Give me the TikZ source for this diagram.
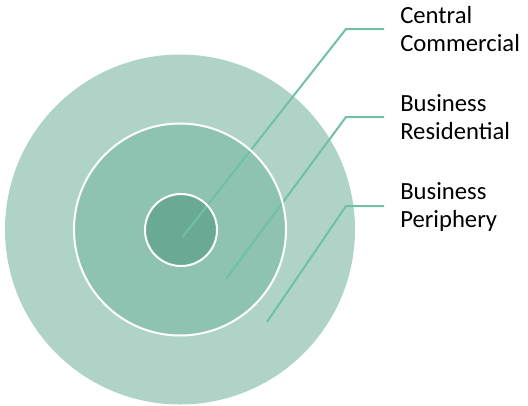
\documentclass[tikz,border=0pt]{standalone}
\usepackage{fontspec}
\setmainfont{Carlito}

\definecolor{outerc}{HTML}{AFD4C7}
\definecolor{middlec}{HTML}{8DC3B0}
\definecolor{innerc}{HTML}{6AAA95}
\definecolor{leadc}{HTML}{72C0A4}

\tikzset{
  zone/.style={circle,inner sep=0pt},
  rim/.style={circle,draw=white,line width=1.5pt,inner sep=0pt},
  leader/.style={draw=leadc,line width=1.5pt},
  zonetext/.style={anchor=base west,align=left,inner xsep=12pt,inner ysep=0pt,
    font=\fontsize{18.5}{21}\selectfont}
}

\begin{document}
\begin{tikzpicture}[x=0.75pt,y=-0.75pt]
    \useasboundingbox (0,0) rectangle (528,405);

    \node[zone,fill=outerc,minimum size=262.5pt] (O) at (180,229.5) {};
    \node[zone,fill=middlec,minimum size=159pt] (M) at (180,229.5) {};
    \node[zone,fill=innerc,minimum size=54pt] (I) at (181,230) {};

    % base anchor sits on the last line
    \node[zonetext] (T1) at (384,51) {Central\\Commercial};
    \node[zonetext] (T2) at (384,139) {Business\\Residential};
    \node[zonetext] (T3) at (384,227) {Business\\Periphery};

    \coordinate (c1) at (182.5,237);
    \coordinate (k1) at (346,29);
    \coordinate (c2) at (226,279);
    \coordinate (k2) at (346,117);
    \coordinate (c3) at (267,322);
    \coordinate (k3) at (346,206);

    \draw[leader] (c1) -- (k1) -- (k1 -| T1.west);
    \draw[leader] (c2) -- (k2) -- (k2 -| T2.west);
    \draw[leader] (c3) -- (k3) -- (k3 -| T3.west);

    \node[rim,minimum size=159pt] (Mrim) at (M) {};
    \node[rim,minimum size=54pt] (Irim) at (I) {};
\end{tikzpicture}
\end{document}
